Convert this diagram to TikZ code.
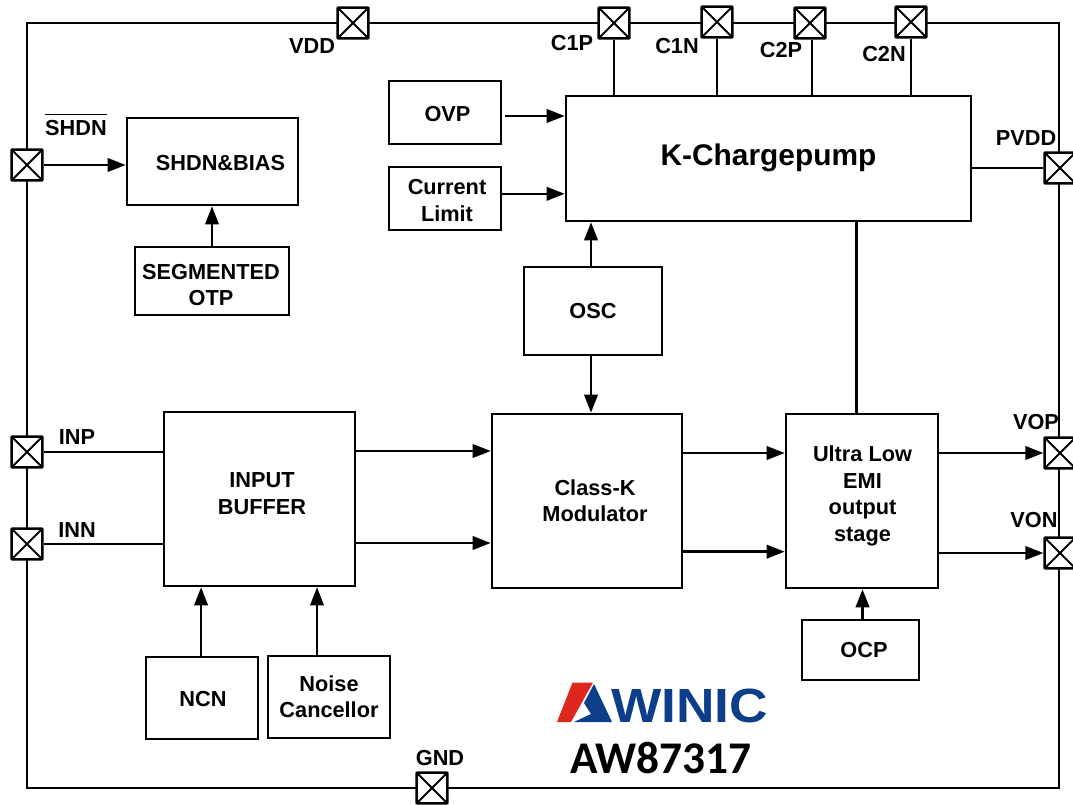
\documentclass[tikz,border=0pt]{standalone}
\usepackage{fontspec}
\setmainfont{Liberation Sans}
\newfontfamily\partfont{Carlito}
\usetikzlibrary{arrows.meta}
\definecolor{logoblue}{RGB}{13,62,137}
\definecolor{logored}{RGB}{222,38,28}
% text set off from the middle of its block, in pixels of the reference
\newcommand\offtext[3]{\makebox[0pt]{\hspace*{#1\dimexpr1.5pt\relax}\raisebox{-#2\dimexpr0.75pt\relax}[0pt][0pt]{\raisebox{-0.37em}{\begin{tabular}{@{}c@{}}#3\end{tabular}}}}}
\tikzset{
	lbl/.style={font=\bfseries\fontsize{16.3pt}{20pt}\selectfont,inner sep=0pt},
	block/.style={draw,line width=1.9pt,fill=white,lbl},
	pad/.style={draw,line width=1.9pt,fill=white,rounded corners=0.5pt,minimum size=23pt,inner sep=0pt,
		path picture={\draw[line width=1.5pt] (path picture bounding box.north west) -- (path picture bounding box.south east)
			(path picture bounding box.north east) -- (path picture bounding box.south west);}},
	wire/.style={line width=1.9pt},
	sig/.style={wire,-{Triangle[length=13.5pt,width=10pt]}},
}
\begin{document}
\begin{tikzpicture}[x=0.75pt,y=0.75pt,yscale=-1]
	\useasboundingbox (0,0) rectangle (1073,805);
	\node[draw,line width=1.9pt,minimum width=774pt,minimum height=573.75pt,inner sep=0pt] (frame) at (543,405.5) {};
	%pads
	\node[pad] (vdd) at (353,23) {};
	\node[pad] (c1p) at (614,23) {};
	\node[pad] (c1n) at (717,22) {};
	\node[pad] (c2p) at (810,23) {};
	\node[pad] (c2n) at (911,22) {};
	\node[pad] (shdnpad) at (27,165) {};
	\node[pad] (pvdd) at (1060,168) {};
	\node[pad] (vop) at (1060,453) {};
	\node[pad] (von) at (1060,553) {};
	\node[pad] (inp) at (27,452) {};
	\node[pad] (inn) at (27,544) {};
	\node[pad] (gnd) at (432,788) {};
	%blocks
	\node[block,minimum width=84pt,minimum height=47.25pt] (ovp) at (445,112.5) {\offtext{2.5}{1.5}{OVP}};
	\node[block,minimum width=84pt,minimum height=47.25pt] (limit) at (445,198.5) {\offtext{2}{2}{Current\\Limit}};
	\node[block,minimum width=303.75pt,minimum height=93.75pt,font=\bfseries\fontsize{22.4pt}{26pt}\selectfont] (pump) at (768.5,158.5) {\offtext{0}{-4.5}{K-Chargepump}};
	\node[block,minimum width=128.25pt,minimum height=65.25pt] (bias) at (212.5,161.5) {\offtext{8}{1.5}{SHDN\&BIAS}};
	\node[block,minimum width=115.5pt,minimum height=51pt] (otp) at (212,281) {\offtext{-1}{4}{SEGMENTED\\OTP}};
	\node[block,minimum width=103.5pt,minimum height=66pt] (osc) at (593,311) {\offtext{0}{0}{OSC}};
	\node[block,minimum width=143.25pt,minimum height=130.5pt] (buffer) at (259.5,499) {\offtext{2.5}{-5.5}{INPUT\\BUFFER}};
	\node[block,minimum width=142.5pt,minimum height=130.5pt] (classk) at (587,501) {\offtext{8}{0}{Class-K\\Modulator}};
	\node[block,minimum width=114pt,minimum height=130.5pt] (stage) at (862,501) {\offtext{0.5}{-7}{Ultra Low\\EMI\\output\\stage}};
	\node[block,minimum width=87.75pt,minimum height=45pt] (ocp) at (860.5,650) {\offtext{3.5}{0}{OCP}};
	\node[block,minimum width=84pt,minimum height=61.5pt] (ncn) at (202,698) {\offtext{1}{1}{NCN}};
	\node[block,minimum width=91.5pt,minimum height=61.5pt] (noise) at (329,697) {\offtext{0}{0}{Noise\\Cancellor}};
	%pad labels
	\node[lbl] (vddlbl) at (312,46) {VDD};
	\node[lbl] (c1plbl) at (572,43) {C1P};
	\node[lbl] (c1nlbl) at (677,46) {C1N};
	\node[lbl] (c2plbl) at (781,50) {C2P};
	\node[lbl] (c2nlbl) at (884,54) {C2N};
	\node[lbl,anchor=base] (shdnlbl) at (76,136) {$\overline{\rule{0pt}{15pt}\mbox{SHDN}}$};
	\node[lbl] (pvddlbl) at (1026,138) {PVDD};
	\node[lbl] (voplbl) at (1036,422) {VOP};
	\node[lbl] (vonlbl) at (1034,520) {VON};
	\node[lbl] (inplbl) at (77,437) {INP};
	\node[lbl] (innlbl) at (77,530) {INN};
	\node[lbl] (gndlbl) at (440,758) {GND};
	%wires
	\draw[wire] (c1p.south) -- (c1p.south |- pump.north);
	\draw[wire] (c1n.south) -- (c1n.south |- pump.north);
	\draw[wire] ([xshift=1.5pt]c2p.south) -- ([xshift=1.5pt]c2p.south |- pump.north);
	\draw[wire] (c2n.south) -- (c2n.south |- pump.north);
	\draw[wire] (pump.east |- pvdd.west) -- (pvdd.west);
	\draw[wire] ([xshift=66pt]pump.south) -- ([xshift=66pt]pump.south |- stage.north);
	\draw[sig] ([xshift=2pt,yshift=2.6pt]ovp.east) -- ([yshift=2.6pt]ovp.east -| pump.west);
	\draw[sig] ([yshift=-3.5pt]limit.east) -- ([yshift=-3.5pt]limit.east -| pump.west);
	\draw[sig] ([xshift=-1.5pt]osc.north) -- ([xshift=-1.5pt]osc.north |- pump.south);
	\draw[sig] ([xshift=-1.5pt]osc.south) -- ([xshift=-1.5pt]osc.south |- classk.north);
	\draw[sig] (shdnpad.east) -- (shdnpad.east -| bias.west);
	\draw[sig] (otp.north) -- (otp.north |- bias.south);
	\draw[wire] (inp.east) -- (inp.east -| buffer.west);
	\draw[wire] (inn.east) -- (inn.east -| buffer.west);
	\draw[sig] ([yshift=-36pt]buffer.east) -- ([yshift=-36pt]buffer.east -| classk.west);
	\draw[sig] ([yshift=33pt]buffer.east) -- ([yshift=33pt]buffer.east -| classk.west);
	\draw[sig] ([yshift=-36pt]classk.east) -- ([yshift=-36pt]classk.east -| stage.west);
	\draw[sig] ([yshift=38pt]classk.east) -- ([yshift=38pt]classk.east -| stage.west);
	\draw[sig] (stage.east |- vop.west) -- (vop.west);
	\draw[sig] (stage.east |- von.west) -- (von.west);
	\draw[sig] ([xshift=1.5pt]ocp.north) -- ([xshift=1.5pt]ocp.north |- stage.south);
	\draw[sig] ([xshift=-0.7pt]ncn.north) -- ([xshift=-0.7pt]ncn.north |- buffer.south);
	\draw[sig] ([xshift=-9pt]noise.north) -- ([xshift=-9pt]noise.north |- buffer.south);
	%logo
	\fill[logored] (572.5,682.5) -- (593,682.5) -- (571,722) -- (557,722) -- cycle;
	\fill[logoblue] (594,684) -- (612,722) -- (574,722) -- (591,714) -- (584,703) -- cycle;
	\node[inner sep=0pt,anchor=west,text=logoblue,font=\bfseries\fontsize{36pt}{36pt}\selectfont] (winic) at (611,705.5) {\scalebox{1.11}[1]{WINIC}};
	\node[inner sep=0pt,font=\partfont\bfseries\fontsize{34pt}{36pt}\selectfont] (part) at (661,758) {AW87317};
\end{tikzpicture}
\end{document}
